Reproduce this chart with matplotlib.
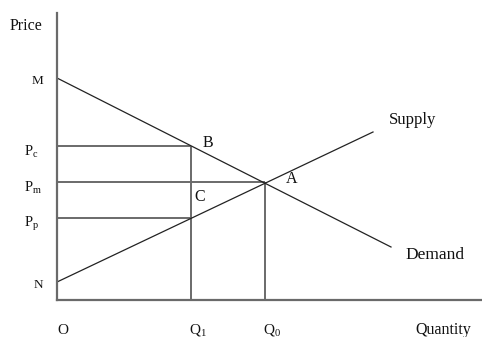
import matplotlib
matplotlib.use("Agg")
import matplotlib.pyplot as plt

# values, origin O at (0, 0)
price_levels = {"M": 222, "P_c": 154, "P_m": 118, "P_p": 82, "N": 18}
quantity_levels = {"O": 0, "Q_1": 134, "Q_0": 208}

demand_q = [0, 334]
demand_p = [222, 53]
supply_q = [0, 316]
supply_p = [18, 168]

X_MAX = 425
Y_MAX = 287

plt.rcParams["font.family"] = ["Liberation Serif", "DejaVu Serif"]
plt.rcParams["mathtext.fontset"] = "custom"
plt.rcParams["mathtext.rm"] = "Liberation Serif"
plt.rcParams["mathtext.it"] = "Liberation Serif"

fig = plt.figure(figsize=(4.82, 3.37), dpi=100)
ax = fig.add_axes([57 / 482, 37 / 337, (482 - 57) / 482, (300 - 13) / 337])
ax.set_xlim(0, X_MAX)
ax.set_ylim(0, Y_MAX)

axis_col = "#6a6a6a"
for side in ["top", "right"]:
    ax.spines[side].set_visible(False)
for side in ["left", "bottom"]:
    ax.spines[side].set_color(axis_col)
    ax.spines[side].set_linewidth(1.6)
ax.set_xticks([])
ax.set_yticks([])

q1 = quantity_levels["Q_1"]
q0 = quantity_levels["Q_0"]
pc = price_levels["P_c"]
pm = price_levels["P_m"]
pp = price_levels["P_p"]

# guide lines
guide = dict(color=axis_col, lw=1.4, solid_capstyle="butt")
ax.plot([0, q1], [pc, pc], **guide)
ax.plot([0, q0], [pm, pm], **guide)
ax.plot([0, q1], [pp, pp], **guide)
ax.plot([q1, q1], [0, pc], **guide)
ax.plot([q0, q0], [0, pm], **guide)

# demand and supply
ax.plot(demand_q, demand_p, color="#222222", lw=0.9)
ax.plot(supply_q, supply_p, color="#222222", lw=0.9)

txt = dict(clip_on=False, color="#111111")

# price labels on the left
ax.text(-31, 274, "Price", fontsize=11.5, ha="center", va="center", **txt)
for name, val in price_levels.items():
    if "_" in name:
        label = r"$\mathrm{" + name + "}$"
        ax.text(-33, val - 6, label, fontsize=10.5, ha="left", va="center", **txt)
    else:
        ax.text(-14, val - 3, name, fontsize=9.5, ha="right", va="center", **txt)

# quantity labels below
for name, val in quantity_levels.items():
    label = r"$\mathrm{" + name + "}$" if "_" in name else name
    ax.text(val - 2 if val else 0, -30, label, fontsize=11, ha="left", va="center", **txt)
ax.text(358, -30, "Quantity", fontsize=11.5, ha="left", va="center", **txt)

# point labels
ax.text(146, 157, "B", fontsize=11.5, ha="left", va="center", **txt)
ax.text(137, 103, "C", fontsize=11.5, ha="left", va="center", **txt)
ax.text(229, 121, "A", fontsize=11.5, ha="left", va="center", **txt)

ax.text(332, 180, "Supply", fontsize=12, ha="left", va="center", **txt)
ax.text(348, 45, "Demand", fontsize=12.5, ha="left", va="center", **txt)

fig.savefig("out.png", dpi=100)
